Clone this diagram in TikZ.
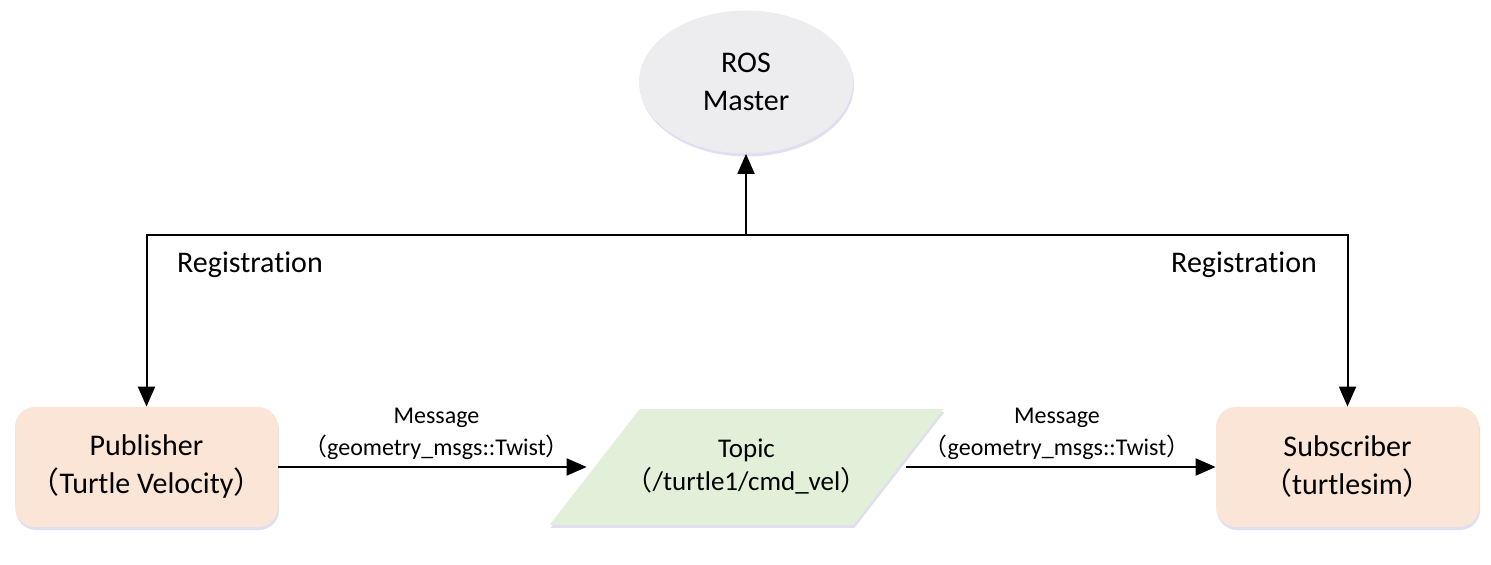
\documentclass[tikz,border=0pt]{standalone}
\usepackage{fontspec}
\setmainfont{Carlito}[Ligatures=NoCommon]
\newfontfamily\cjk{Noto Sans CJK SC}
\usetikzlibrary{arrows.meta,shapes.geometric,shadows,backgrounds}
\definecolor{peach}{HTML}{FBE5D6}
\definecolor{leaf}{HTML}{E2F0D9}
\definecolor{cloud}{HTML}{EDEDF0}
\newcommand{\lpar}{{\cjk （}}
\newcommand{\rpar}{{\cjk ）}}

\begin{document}
\begin{tikzpicture}[x=0.5pt,y=-0.5pt,
    softshadow/.style={drop shadow={shadow xshift=0.5pt,shadow yshift=-1.5pt,fill=blue!40!gray,opacity=0.18}},
    nodebox/.style={rectangle,rounded corners=10pt,fill=peach,minimum width=131.5pt,minimum height=60pt,
        align=center,font=\fontsize{15}{19}\selectfont,softshadow},
    masterbox/.style={ellipse,fill=cloud,minimum width=107pt,minimum height=71.5pt,inner sep=0pt,
        align=center,font=\fontsize{15}{19}\selectfont,softshadow},
    topicbox/.style={rectangle,minimum width=151.5pt,minimum height=57.5pt,inner sep=0pt,
        align=center,font=\fontsize{13.5}{16.5}\selectfont},
    flow/.style={line width=1pt,-{Triangle[length=10pt,width=8.5pt]}},
    msg/.style={align=center,font=\fontsize{12}{16}\selectfont,inner sep=3pt},
    reg/.style={font=\fontsize{15}{19}\selectfont}]
        \useasboundingbox (0,0) rectangle (1491,565);
        \node[masterbox] (master) at (746,82) {ROS\\Master};
        \node[nodebox] (pub) at (146.5,467) {Publisher\\\lpar Turtle Velocity\rpar};
        \node[nodebox] (sub) at (1347.5,467) {Subscriber\\\lpar turtlesim\rpar};
        \node[topicbox] (topic) at (746.5,467) {Topic\\\lpar/turtle1/cmd\_vel\rpar};
        % slanted box behind the topic text
        \begin{pgfonlayer}{background}
            \fill[leaf,softshadow] ([xshift=22.5pt]topic.north west) -- ([xshift=22.5pt]topic.north east)
                -- ([xshift=-22.5pt]topic.south east) -- ([xshift=-22.5pt]topic.south west) -- cycle;
        \end{pgfonlayer}
        \coordinate (bus) at (746,235);
        \node[reg] (regl) at (250,265) {Registration};
        \node[reg] (regr) at (1244,265) {Registration};
        \draw[flow] (bus) -- (master);
        \draw[flow] (bus) -| (pub);
        \draw[flow] (bus) -| (sub);
        \draw[flow,shorten >=4pt] (pub) -- node[msg,above] {Message\\\lpar geometry\_msgs::Twist\rpar} (topic);
        \draw[flow,shorten <=4pt] (topic) -- node[msg,above] {Message\\\lpar geometry\_msgs::Twist\rpar} (sub);
    \end{tikzpicture}
\end{document}
